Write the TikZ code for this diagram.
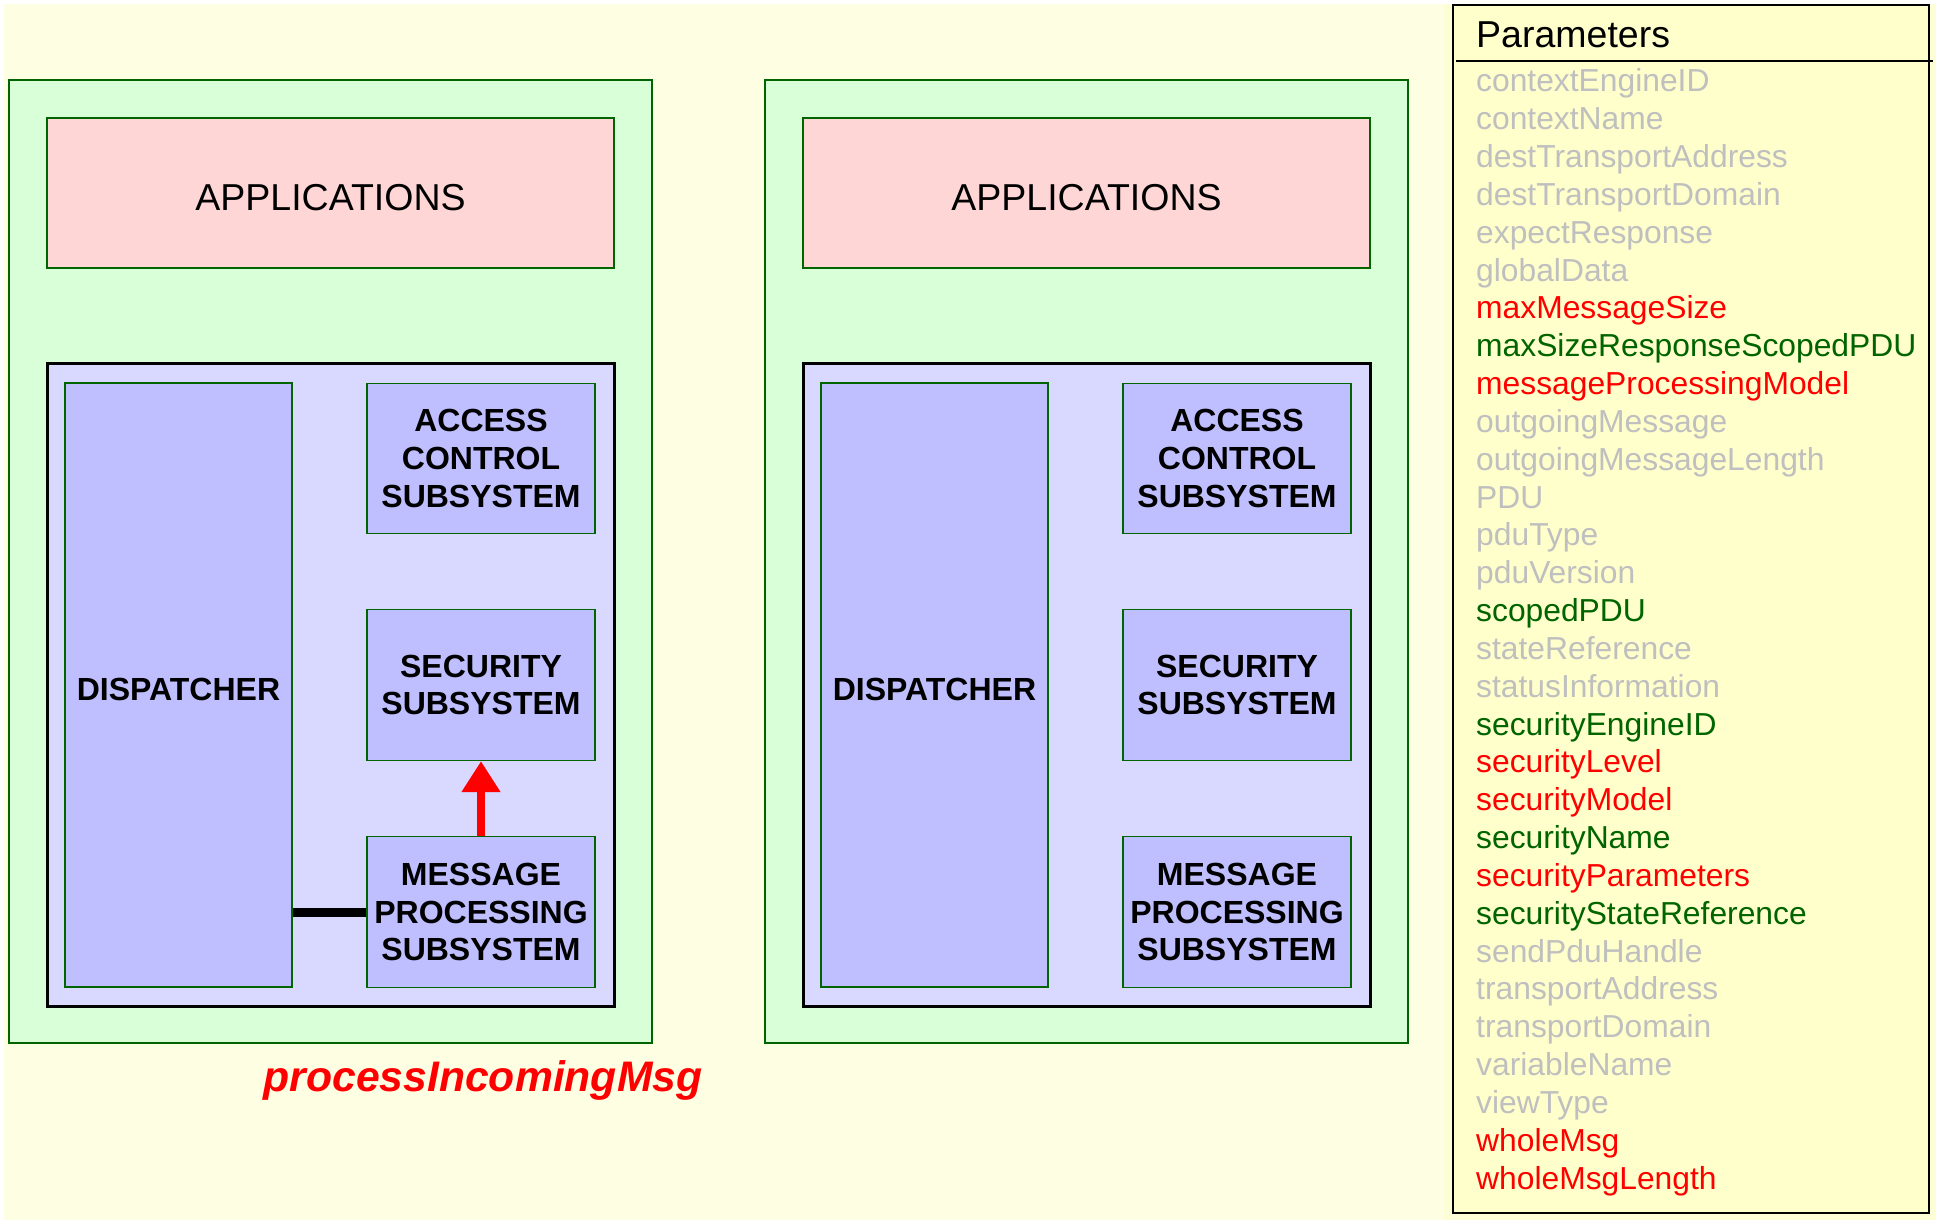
\documentclass[tikz,border=0pt]{standalone}
\usepackage{fontspec}
\setmainfont{Liberation Sans}
\usetikzlibrary{arrows.meta}
\definecolor{bgyel}{HTML}{FEFEE3}
\definecolor{stripyel}{HTML}{FEFED6}
\definecolor{paramyel}{HTML}{FFFFCC}
\definecolor{panelgreen}{HTML}{D9FFD9}
\definecolor{edgegreen}{HTML}{006400}
\definecolor{apppink}{HTML}{FFD6D6}
\definecolor{lav}{HTML}{D9D9FF}
\definecolor{subblue}{HTML}{BFBFFF}
\definecolor{pgray}{HTML}{BFBFBF}
\definecolor{pgreen}{HTML}{006400}
\definecolor{pred}{HTML}{FF0000}
\tikzset{
  panel/.style={draw=edgegreen, fill=panelgreen, line width=2.5pt, inner sep=0pt},
  appbox/.style={draw=edgegreen, fill=apppink, line width=2.5pt, inner sep=0pt,
    minimum width=567pt, minimum height=150pt},
  apptext/.style={anchor=base, inner sep=0pt, font=\fontsize{37.5}{44}\selectfont},
  engine/.style={draw=black, fill=lav, line width=3pt, inner sep=0pt,
    minimum width=567pt, minimum height=643pt},
  subbox/.style={draw=edgegreen, fill=subblue, line width=1.3pt, inner sep=0pt,
    align=center, font=\bfseries\fontsize{32}{37.7}\selectfont},
  disptext/.style={anchor=base, inner sep=0pt, font=\bfseries\fontsize{32}{37.7}\selectfont},
  param/.style={anchor=base west, inner sep=0pt, font=\fontsize{31.8}{36}\selectfont},
}
\begin{document}
\begin{tikzpicture}[x=1pt,y=-1pt]
\useasboundingbox (0,0) rectangle (1936,1220);
\fill[white] (0,0) rectangle (1936,1220);
\fill[bgyel] (4,4) rectangle (1936,1220);
\fill[stripyel] (1444,4) rectangle (1936,1220);

% Left engine
\node[panel, minimum width=643pt, minimum height=963pt] (outerL) at (330.5,561.5) {};
\node[appbox] (appL) at (330.5,193) {};
\node[apptext] (appLt) at (330.5,211) {APPLICATIONS};
\node[engine] (innerL) at (330.5,684.5) {};
\node[subbox, minimum width=227pt, minimum height=604pt] (dispL) at (178.5,685) {};
\node[disptext] (dispLt) at (178.5,700) {DISPATCHER};
\node[subbox, minimum width=228pt, minimum height=150pt] (accL) at (481,458.5) {ACCESS\\CONTROL\\SUBSYSTEM};
\node[subbox, minimum width=228pt, minimum height=151pt] (secL) at (481,685) {SECURITY\\SUBSYSTEM};
\node[subbox, minimum width=228pt, minimum height=151pt] (msgL) at (481,912) {MESSAGE\\PROCESSING\\SUBSYSTEM};

% Right engine
\node[panel, minimum width=643pt, minimum height=963pt] (outerR) at (1086.5,561.5) {};
\node[appbox] (appR) at (1086.5,193) {};
\node[apptext] (appRt) at (1086.5,211) {APPLICATIONS};
\node[engine] (innerR) at (1086.5,684.5) {};
\node[subbox, minimum width=227pt, minimum height=604pt] (dispR) at (934.5,685) {};
\node[disptext] (dispRt) at (934.5,700) {DISPATCHER};
\node[subbox, minimum width=228pt, minimum height=150pt] (accR) at (1237,458.5) {ACCESS\\CONTROL\\SUBSYSTEM};
\node[subbox, minimum width=228pt, minimum height=151pt] (secR) at (1237,685) {SECURITY\\SUBSYSTEM};
\node[subbox, minimum width=228pt, minimum height=151pt] (msgR) at (1237,912) {MESSAGE\\PROCESSING\\SUBSYSTEM};

% Connectors
\draw[line width=9pt] (msgL.west) -- (msgL.west -| dispL.east);
\draw[pred, line width=8pt, -{Triangle[width=37pt,length=31pt]}] (msgL.north) -- (secL.south);

% Call label
\node[anchor=base, inner sep=0pt, text=pred, font=\bfseries\itshape\fontsize{42.7}{50}\selectfont] (call) at (483,1091) {processIncomingMsg};

% Parameters box
\node[draw=black, fill=paramyel, line width=2.5pt, inner sep=0pt, minimum width=476pt, minimum height=1208pt] (pbox) at (1691,609) {};
\coordinate (hl) at (1456,61);
\coordinate (hr) at (1933,61);
\draw[line width=2pt] (hl) -- (hr);
\node[anchor=base west, inner sep=0pt, font=\fontsize{37.5}{42}\selectfont] (ptitle) at (1476,48) {Parameters};
\foreach \t/\c [count=\i from 0] in {
  contextEngineID/pgray, contextName/pgray, destTransportAddress/pgray,
  destTransportDomain/pgray, expectResponse/pgray, globalData/pgray,
  maxMessageSize/pred, maxSizeResponseScopedPDU/pgreen, messageProcessingModel/pred,
  outgoingMessage/pgray, outgoingMessageLength/pgray, PDU/pgray, pduType/pgray,
  pduVersion/pgray, scopedPDU/pgreen, stateReference/pgray, statusInformation/pgray,
  securityEngineID/pgreen, securityLevel/pred, securityModel/pred, securityName/pgreen,
  securityParameters/pred, securityStateReference/pgreen, sendPduHandle/pgray,
  transportAddress/pgray, transportDomain/pgray, variableName/pgray, viewType/pgray,
  wholeMsg/pred, wholeMsgLength/pred}
{
  \node[param, text=\c] (p\i) at (1476, 92+37.83*\i) {\t};
}
\end{tikzpicture}
\end{document}
